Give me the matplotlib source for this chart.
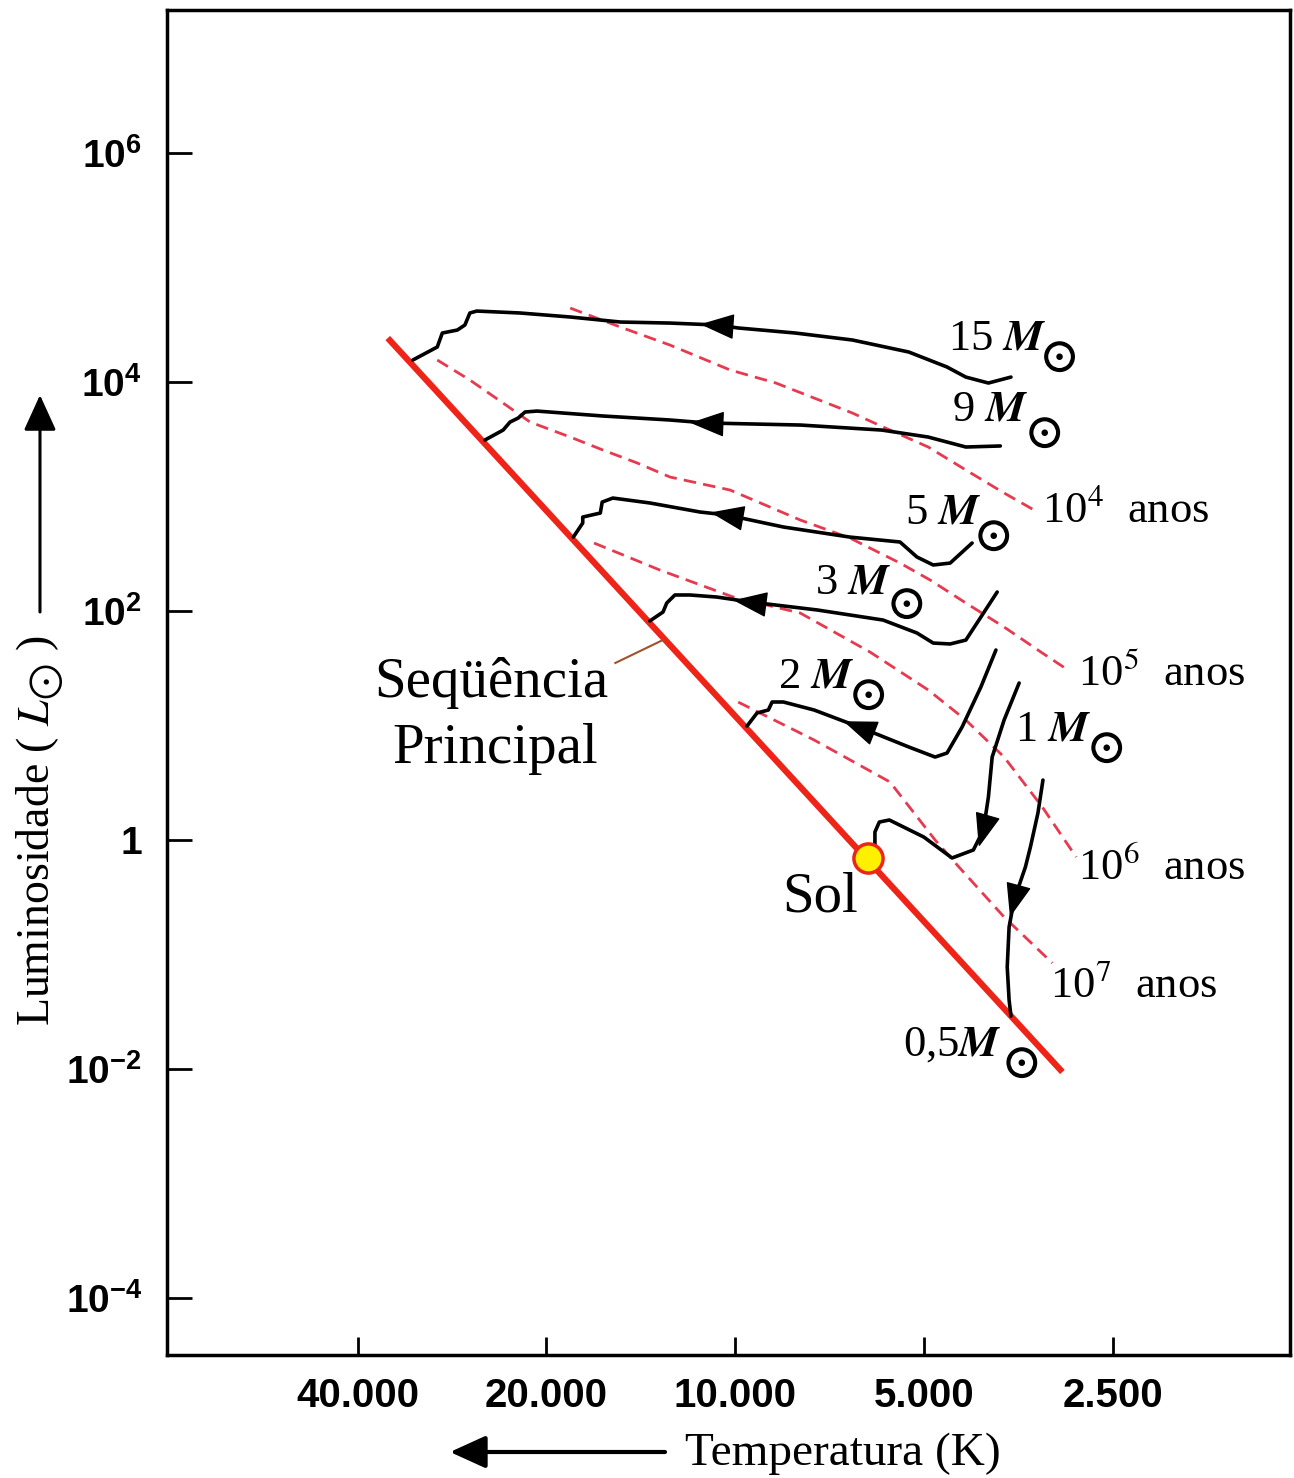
import numpy as np
import matplotlib
matplotlib.use('Agg')
import matplotlib.pyplot as plt
import matplotlib.patheffects as pe
from matplotlib.path import Path
from matplotlib.markers import MarkerStyle
from matplotlib.transforms import Affine2D

plt.rcParams['mathtext.fontset'] = 'custom'
plt.rcParams['mathtext.rm'] = 'Liberation Sans:bold'
plt.rcParams['mathtext.it'] = 'Liberation Sans:bold:italic'
plt.rcParams['mathtext.bf'] = 'Liberation Sans:bold'

# ---------------- data (log10 T [K], log10 L [Lsun]) ----------------
x_ticks_T = [40000, 20000, 10000, 5000, 2500]
x_tick_labels = ['40.000', '20.000', '10.000', '5.000', '2.500']
y_ticks_L = [1e-4, 1e-2, 1, 1e2, 1e4, 1e6]
y_tick_labels = [r'$\mathrm{10^{-4}}$', r'$\mathrm{10^{-2}}$', '1',
                 r'$\mathrm{10^{2}}$', r'$\mathrm{10^{4}}$', r'$\mathrm{10^{6}}$']

ms_logT = [4.554, 3.478]
ms_logL = [4.386, -2.027]

sun_logT = 3.788
sun_logL = -0.157

track_15_logT = [3.560, 3.596, 3.632, 3.662, 3.723, 3.813, 3.904, 3.995, 4.029, 4.104,
                 4.183, 4.263, 4.343, 4.412, 4.423, 4.431, 4.443, 4.467, 4.475, 4.514]
track_15_logL = [4.045, 3.993, 4.045, 4.133, 4.264, 4.369, 4.430, 4.474, 4.500, 4.517,
                 4.526, 4.570, 4.605, 4.622, 4.605, 4.500, 4.456, 4.430, 4.308, 4.194]

track_9_logT = [3.577, 3.632, 3.692, 3.766, 3.896, 4.045, 4.104, 4.211, 4.316, 4.335,
                4.346, 4.359, 4.370, 4.399]
track_9_logL = [3.443, 3.434, 3.521, 3.582, 3.626, 3.644, 3.670, 3.705, 3.748, 3.740,
                3.687, 3.652, 3.582, 3.495]

track_5_logT = [3.622, 3.657, 3.684, 3.710, 3.737, 3.817, 3.923, 4.013, 4.056, 4.136,
                4.195, 4.212, 4.215, 4.243, 4.243, 4.258]
track_5_logL = [2.595, 2.420, 2.403, 2.473, 2.604, 2.647, 2.735, 2.840, 2.866, 2.945,
                2.988, 2.953, 2.857, 2.822, 2.770, 2.647]

track_3_logT = [3.582, 3.608, 3.632, 3.657, 3.684, 3.710, 3.764, 3.869, 3.976, 4.029,
                4.072, 4.096, 4.109, 4.115, 4.136]
track_3_logL = [2.167, 1.948, 1.747, 1.713, 1.721, 1.809, 1.922, 2.010, 2.080, 2.123,
                2.141, 2.141, 2.071, 1.992, 1.914]

track_2_logT = [3.584, 3.608, 3.638, 3.662, 3.681, 3.723, 3.802, 3.874, 3.923, 3.941,
                3.947, 3.965, 3.981]
track_2_logL = [1.660, 1.337, 0.987, 0.760, 0.725, 0.813, 0.987, 1.136, 1.206, 1.206,
                1.136, 1.110, 0.996]

track_1_logT = [3.547, 3.571, 3.590, 3.596, 3.604, 3.620, 3.654, 3.699, 3.754, 3.770,
                3.777, 3.777]
track_1_logL = [1.372, 1.048, 0.725, 0.376, 0.087, -0.087, -0.157, 0.026, 0.175, 0.157,
                0.070, -0.044]

track_05_logT = [3.509, 3.517, 3.529, 3.537, 3.555, 3.563, 3.566, 3.563, 3.560]
track_05_logL = [0.524, 0.236, -0.061, -0.236, -0.524, -0.760, -1.110, -1.398, -1.538]

iso_1e4_logT = [4.263, 4.183, 4.104, 4.008, 3.935, 3.813, 3.753, 3.692, 3.632, 3.571, 3.523]
iso_1e4_logL = [4.648, 4.482, 4.325, 4.107, 3.993, 3.731, 3.582, 3.434, 3.233, 3.032, 2.883]

iso_1e5_logT = [4.475, 4.423, 4.370, 4.327, 4.263, 4.211, 4.156, 4.104, 4.008, 3.896,
                3.817, 3.737, 3.689, 3.632, 3.571, 3.510, 3.469]
iso_1e5_logL = [4.194, 4.019, 3.818, 3.652, 3.521, 3.408, 3.294, 3.172, 3.058, 2.796,
                2.639, 2.420, 2.272, 2.071, 1.861, 1.634, 1.485]

iso_1e6_logT = [4.225, 4.120, 4.003, 3.896, 3.785, 3.692, 3.632, 3.571, 3.510, 3.456]
iso_1e6_logL = [2.595, 2.359, 2.123, 1.983, 1.643, 1.311, 1.048, 0.725, 0.288, -0.149]

iso_1e7_logT = [3.995, 3.874, 3.753, 3.681, 3.643, 3.571, 3.494]
iso_1e7_logL = [1.205, 0.874, 0.507, 0.000, -0.236, -0.673, -1.075]

tracks = [
    ('15', track_15_logT, track_15_logL, 8),
    ('9', track_9_logT, track_9_logL, 5),
    ('5', track_5_logT, track_5_logL, 7),
    ('3', track_3_logT, track_3_logL, 8),
    ('2', track_2_logT, track_2_logL, 6),
    ('1', track_1_logT, track_1_logL, 4),
    ('0,5', track_05_logT, track_05_logL, 4),
]
isochrones = [
    ('4', iso_1e4_logT, iso_1e4_logL),
    ('5', iso_1e5_logT, iso_1e5_logL),
    ('6', iso_1e6_logT, iso_1e6_logL),
    ('7', iso_1e7_logT, iso_1e7_logL),
]

# ---------------- figure ----------------
fig = plt.figure(figsize=(12.94, 14.78), dpi=100)
ax = fig.add_axes([0.1291, 0.0832, 0.8678, 0.9100])
ax.set_xscale('log')
ax.set_yscale('log')
ax.set_xlim(10**4.906, 10**3.115)
ax.set_ylim(10**-4.50, 10**7.252)

RED = '#ee2418'
DASH = '#e63a50'

for name, lt, ll in isochrones:
    ax.plot(10**np.array(lt), 10**np.array(ll), color=DASH, lw=2.0,
            linestyle=(0, (4.5, 2.6)), zorder=2)

ax.plot(10**np.array(ms_logT), 10**np.array(ms_logL), color=RED, lw=4.5,
        solid_capstyle='butt', zorder=3)

# leader line from "Sequencia Principal" label
ax.plot([10**4.191, 10**4.115], [10**1.547, 10**1.748], color='#a0522d', lw=1.5, zorder=3)

tri = Path([(0.6, 0.0), (-0.6, 0.45), (-0.6, -0.45), (0.6, 0.0)],
           [Path.MOVETO, Path.LINETO, Path.LINETO, Path.CLOSEPOLY])

for name, lt, ll, k in tracks:
    T = 10**np.array(lt)
    L = 10**np.array(ll)
    ax.plot(T, L, color='k', lw=2.6, zorder=4, solid_joinstyle='round',
            solid_capstyle='round')
    p0 = ax.transData.transform((T[k - 1], L[k - 1]))
    p1 = ax.transData.transform((T[k + 1], L[k + 1]))
    ang = np.degrees(np.arctan2(p1[1] - p0[1], p1[0] - p0[0]))
    m = MarkerStyle(tri, transform=Affine2D().rotate_deg(ang))
    ax.plot([T[k]], [L[k]], marker=m, markersize=22, color='k', mec='k', zorder=5)

ax.plot([10**sun_logT], [10**sun_logL], marker='o', markersize=21,
        mfc='#fff000', mec=RED, mew=2.5, zorder=6)

# ---------------- texts ----------------
serif = 'Liberation Serif'
mass_pos = {'15': (0.6955, 0.7475), '9': (0.699, 0.6950), '5': (0.6572, 0.6185),
            '3': (0.577, 0.5665), '2': (0.5441, 0.4965), '1': (0.7551, 0.4570),
            '0,5': (0.6554, 0.2230)}
sun_sym_pos = {'15': (0.7950, 0.7420), '9': (0.7818, 0.6855), '5': (0.7364, 0.6089),
               '3': (0.6590, 0.5584), '2': (0.6250, 0.4907), '1': (0.8370, 0.4513),
               '0,5': (0.7614, 0.2171)}
thick = [pe.withStroke(linewidth=1.3, foreground='k')]
for name, lt, ll, k in tracks:
    sep = '' if name == '0,5' else ' '
    ax.text(*mass_pos[name], name + sep + r'$\mathbfit{M}$', transform=ax.transAxes,
            fontsize=32, family=serif, math_fontfamily='stix', ha='left', va='baseline')
    ax.text(*sun_sym_pos[name], r'$\bigodot$', transform=ax.transAxes,
            fontsize=20.5, math_fontfamily='stix', ha='center', va='center',
            path_effects=thick)

iso_pos = {'4': (0.7792, 0.6193), '5': (0.8112, 0.4974), '6': (0.8112, 0.3532),
           '7': (0.7863, 0.2654)}
for name, lt, ll in isochrones:
    ax.text(*iso_pos[name], r'10$^{%s}$  anos' % name, transform=ax.transAxes,
            fontsize=32, family=serif, math_fontfamily='stix', ha='left', va='baseline')

ax.text(0.5476, 0.3294, 'Sol', transform=ax.transAxes, fontsize=41, family=serif,
        ha='left', va='baseline')
ax.text(0.2885, 0.4892, 'Seqüência', transform=ax.transAxes, fontsize=41, family=serif,
        ha='center', va='baseline')
ax.text(0.2921, 0.4401, 'Principal', transform=ax.transAxes, fontsize=41, family=serif,
        ha='center', va='baseline')

# ---------------- axes styling ----------------
for s in ax.spines.values():
    s.set_linewidth(2.5)
    s.set_color('k')
ax.minorticks_off()
ax.set_xticks(x_ticks_T)
ax.set_xticklabels(x_tick_labels, family='Liberation Sans', fontweight='bold', fontsize=29)
ax.set_yticks(y_ticks_L)
ax.set_yticklabels(y_tick_labels, family='Liberation Sans', fontweight='bold', fontsize=28)
ax.tick_params(axis='x', direction='in', length=13, width=2, pad=16)
ax.tick_params(axis='y', direction='in', length=18, width=2, pad=18)

# axis labels with arrows
fig.text(0.0309, 1 - 830 / 1478, r'Luminosidade ( $L_{\bigodot}$ )', rotation=90,
         fontsize=33, family=serif, math_fontfamily='stix', ha='center', va='center')
fig.text(0.5294, 0.0085, 'Temperatura (K)', fontsize=34, family=serif,
         ha='left', va='baseline')

ax.annotate('', xy=(0.0309, 1 - 395 / 1478), xytext=(0.0309, 1 - 612 / 1478),
            xycoords='figure fraction', textcoords='figure fraction',
            arrowprops=dict(arrowstyle='-|>,head_length=1.1,head_width=0.5',
                            mutation_scale=20, lw=2.2, color='k', shrinkA=0, shrinkB=0))
ax.annotate('', xy=(450 / 1294, 1 - 1452 / 1478), xytext=(665 / 1294, 1 - 1452 / 1478),
            xycoords='figure fraction', textcoords='figure fraction',
            arrowprops=dict(arrowstyle='-|>,head_length=1.1,head_width=0.5',
                            mutation_scale=20, lw=3, color='k', shrinkA=0, shrinkB=0))

fig.savefig('out.png', dpi=100)
